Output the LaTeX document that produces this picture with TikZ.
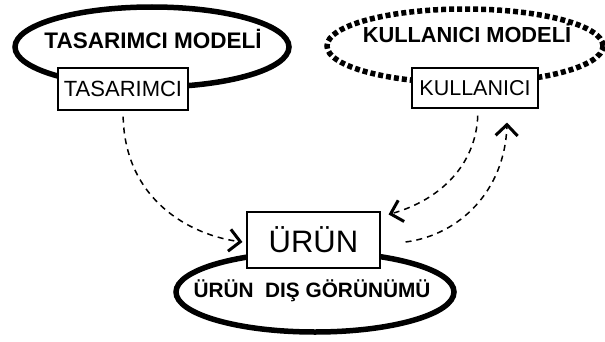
\documentclass[tikz,border=0pt]{standalone}
\usepackage{fontspec}
\setmainfont{Liberation Sans}
\usetikzlibrary{arrows.meta}
\begin{document}
\begin{tikzpicture}[x=1pt,y=1pt,
  modelring/.style={line width=5.5pt},
  dotring/.style={line width=5.5pt,dash pattern=on 5pt off 3pt},
  boxnode/.style={draw,line width=1.1pt,fill=white,inner sep=0pt},
  flow/.style={line width=1.5pt,dash pattern=on 6pt off 5pt,
    -{Straight Barb[length=11pt,width=22pt,line width=3pt]}}]
\useasboundingbox (0,0) rectangle (605,341);

\draw[modelring] (152,294) ellipse (137 and 40);
\draw[dotring] (465,295) ellipse (138 and 37);
\draw[modelring] (315,49) ellipse (139 and 40);

\node (tasmodel) at (153,302) {\fontsize{22.5}{24}\selectfont\bfseries TASARIMCI MODELİ};
\node (kulmodel) at (467,308) {\fontsize{21.8}{24}\selectfont\bfseries KULLANICI MODELİ};
\node (gorunum) at (312,50) {\fontsize{20.8}{24}\selectfont\bfseries ÜRÜN\ \ DIŞ GÖRÜNÜMÜ};

\node[boxnode,minimum width=130pt,minimum height=42pt] (tas) at (123,252)
  {\fontsize{22}{24}\selectfont TASARIMCI};
\node[boxnode,minimum width=126pt,minimum height=40pt] (kul) at (475,253)
  {\fontsize{21.5}{24}\selectfont KULLANICI};
\node[boxnode,minimum width=133pt,minimum height=56pt] (urun) at (313.5,101)
  {\fontsize{31}{33}\selectfont ÜRÜN};

\draw[flow,shorten <=6pt] (tas.south) .. controls (125,141) and (190,106)
  .. ([xshift=-4pt,yshift=-2pt]urun.west);
\draw[flow,shorten <=7pt] ([xshift=3pt]kul.south) .. controls (476,176) and (440,141)
  .. ([xshift=8pt,yshift=-3pt]urun.north east);
\draw[flow] ([xshift=25pt,yshift=-2pt]urun.east) .. controls (460,106) and (505,151)
  .. ([xshift=32pt,yshift=-14pt]kul.south);
\end{tikzpicture}
\end{document}
